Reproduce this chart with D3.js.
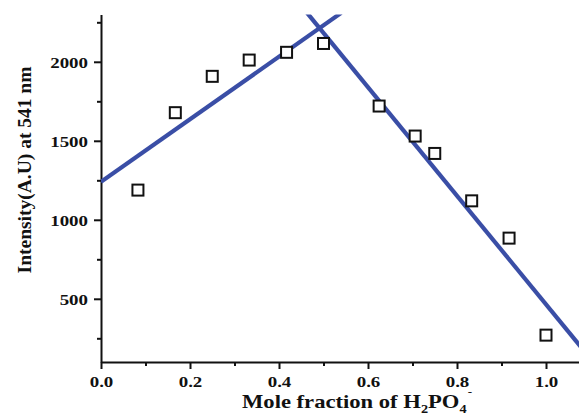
<!DOCTYPE html>
<html>
<head>
<meta charset="utf-8">
<script src="https://cdn.jsdelivr.net/npm/d3@7"></script>
<style>
  body { margin: 0; background: #fff; }
  svg { display: block; }
  text { font-family: "Liberation Serif", "Times New Roman", serif; font-weight: bold; fill: #111; }
</style>
</head>
<body>
<svg id="chart"></svg>
<script>
var width = 579;
var height = 416;

// data
var moleFraction = [0.083, 0.167, 0.25, 0.333, 0.417, 0.5, 0.625, 0.706, 0.75, 0.833, 0.917, 1.0];
var intensity = [1188, 1678, 1908, 2011, 2060, 2116, 1720, 1530, 1420, 1120, 884, 270];

// fitted lines (start and end of each)
var fitLeftX = [0, 0.54];
var fitLeftY = [1240, 2310];
var fitRightX = [0.463, 1.08];
var fitRightY = [2310, 190];

var xMajor = [0, 0.2, 0.4, 0.6, 0.8, 1.0];
var xMinor = [0.1, 0.3, 0.5, 0.7, 0.9];
var yMajor = [500, 1000, 1500, 2000];
var yMinor = [250, 750, 1250, 1750, 2250];

var plotLeft = 101, plotTop = 14.4, plotBottom = 362;

var xScale = d3.scaleLinear()
    .domain([0, 1.075])
    .range([plotLeft, plotLeft + 1.075 * 445]);

var yScale = d3.scaleLinear()
    .domain([100, 2300])
    .range([plotBottom, plotTop]);

var svg = d3.select("#chart")
    .attr("width", width)
    .attr("height", height);

svg.append("defs").append("clipPath")
    .attr("id", "plot")
    .append("rect")
    .attr("x", plotLeft)
    .attr("y", plotTop)
    .attr("width", width - plotLeft)
    .attr("height", plotBottom - plotTop);

// minor ticks
svg.append("g")
    .attr("transform", "translate(0," + plotBottom + ")")
    .call(d3.axisBottom(xScale).tickValues(xMinor).tickSize(4).tickFormat(""))
    .call(g => g.select(".domain").remove());

svg.append("g")
    .attr("transform", "translate(" + plotLeft + ",0)")
    .call(d3.axisLeft(yScale).tickValues(yMinor).tickSize(4).tickFormat(""))
    .call(g => g.select(".domain").remove());

// major axes
var xAxis = svg.append("g")
    .attr("transform", "translate(0," + plotBottom + ")")
    .call(d3.axisBottom(xScale).tickValues(xMajor).tickSize(7).tickSizeOuter(0).tickFormat(d3.format(".1f")));

var yAxis = svg.append("g")
    .attr("transform", "translate(" + plotLeft + ",0)")
    .call(d3.axisLeft(yScale).tickValues(yMajor).tickSize(7).tickSizeOuter(0).tickFormat(d3.format("d")));

svg.selectAll(".domain").attr("stroke", "#111").attr("stroke-width", 2);
svg.selectAll(".tick line").attr("stroke", "#111").attr("stroke-width", 2);

xAxis.selectAll("text")
    .attr("font-size", 15.5)
    .attr("y", 0)
    .attr("dy", 0)
    .attr("transform", "translate(0,25) scale(1.22,1)");

yAxis.selectAll("text")
    .attr("font-size", 15.5)
    .attr("x", 0)
    .attr("dy", "0.35em")
    .attr("transform", "translate(-13,0) scale(1.22,1)");

svg.selectAll(".tick text").attr("fill", "#111").style("font-family", "Liberation Serif").style("font-weight", "bold");

// fit lines
var plot = svg.append("g").attr("clip-path", "url(#plot)");

var line = d3.line()
    .x(d => xScale(d[0]))
    .y(d => yScale(d[1]));

plot.append("path")
    .datum(d3.zip(fitLeftX, fitLeftY))
    .attr("d", line)
    .attr("fill", "none")
    .attr("stroke", "#3a4ea6")
    .attr("stroke-width", 4.2);

plot.append("path")
    .datum(d3.zip(fitRightX, fitRightY))
    .attr("d", line)
    .attr("fill", "none")
    .attr("stroke", "#3a4ea6")
    .attr("stroke-width", 4.2);

// squares
var sq = 11;
svg.append("g")
    .selectAll("rect")
    .data(d3.zip(moleFraction, intensity))
    .enter()
    .append("rect")
    .attr("x", d => xScale(d[0]) - sq / 2)
    .attr("y", d => yScale(d[1]) - sq / 2)
    .attr("width", sq)
    .attr("height", sq)
    .attr("fill", "#fff")
    .attr("stroke", "#111")
    .attr("stroke-width", 2);

// axis titles
var xt = svg.append("text")
    .attr("font-size", 19)
    .attr("transform", "translate(242,408) scale(1.19,1)");
xt.append("tspan").text("Mole fraction of H");
xt.append("tspan").attr("font-size", 12).attr("dy", 5).text("2");
xt.append("tspan").attr("dy", -5).text("PO");
xt.append("tspan").attr("font-size", 12).attr("dy", 5).text("4");
xt.append("tspan").attr("font-size", 11).attr("dx", 1).attr("dy", -18).text("-");

svg.append("text")
    .attr("font-size", 19.5)
    .attr("text-anchor", "middle")
    .attr("transform", "translate(31,170) rotate(-90)")
    .text("Intensity(A.U) at 541 nm");
</script>
</body>
</html>
